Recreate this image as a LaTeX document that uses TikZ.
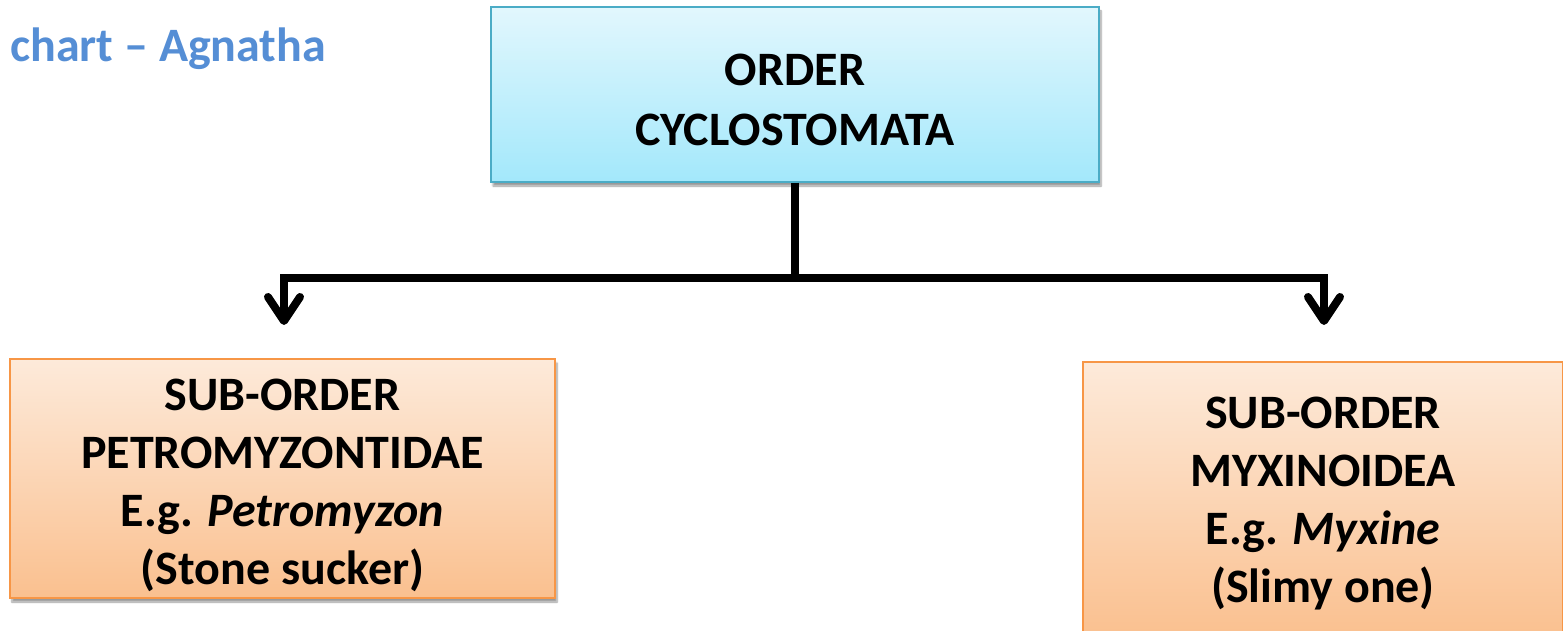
\documentclass[tikz,border=0pt]{standalone}
\usepackage{fontspec}
\setmainfont{Carlito}
\usetikzlibrary{arrows.meta,shadows.blur}
\definecolor{titleblue}{RGB}{85,142,213}
\definecolor{cyanedge}{RGB}{75,172,198}
\definecolor{cyantop}{RGB}{226,247,253}
\definecolor{cyanbot}{RGB}{163,232,251}
\definecolor{orangeedge}{RGB}{247,150,70}
\definecolor{orangetop}{RGB}{253,234,218}
\definecolor{orangebot}{RGB}{250,192,143}
\tikzset{
  boxtext/.style={font=\bfseries\fontsize{48}{58}\selectfont, align=center, text=black, inner sep=0pt},
  cyanbox/.style={boxtext, draw=cyanedge, line width=1.5pt, top color=cyantop, bottom color=cyanbot,
    blur shadow={shadow xshift=2pt, shadow yshift=-4pt, shadow blur steps=6, shadow opacity=40}},
  orangebox/.style={boxtext, draw=orangeedge, line width=1.5pt, top color=orangetop, bottom color=orangebot,
    blur shadow={shadow xshift=2pt, shadow yshift=-4pt, shadow blur steps=6, shadow opacity=40}},
  conn/.style={line width=8pt, black},
  tip/.style={-{Straight Barb[length=24pt,width=32pt,round]}}
}
\begin{document}
\begin{tikzpicture}[x=1pt,y=-1pt]
\useasboundingbox (0,0) rectangle (1563,631);
\node[anchor=base west, font=\bfseries\fontsize{48}{54}\selectfont, text=titleblue, inner sep=0pt] (title) at (10,62) {chart – Agnatha};
\node[cyanbox, font=\bfseries\fontsize{48}{60}\selectfont, minimum width=608pt, minimum height=175pt] (top) at (795,94.5) {\rule{0pt}{42pt}ORDER\\CYCLOSTOMATA};
\node[orangebox, minimum width=545pt, minimum height=239pt] (left) at (282.5,478.5) {\rule{0pt}{46pt}SUB-ORDER\\PETROMYZONTIDAE\\E.g. \textit{Petromyzon}\\(Stone sucker)};
\node[orangebox, minimum width=480pt, minimum height=276pt] (right) at (1323,500) {\rule{0pt}{39pt}SUB-ORDER\\MYXINOIDEA\\E.g. \textit{Myxine}\\(Slimy one)};
\coordinate (jm) at (795,278);
\coordinate (jl) at (284,278);
\coordinate (jr) at (1324,278);
\coordinate (al) at (284,325);
\coordinate (ar) at (1324,325);
\draw[conn] (top.south) -- (jm);
\draw[conn, tip] (jl) -- (al);
\draw[conn, tip] (jr) -- (ar);
\draw[conn, line cap=rect] (jl) -- (jr);
\end{tikzpicture}
\end{document}
